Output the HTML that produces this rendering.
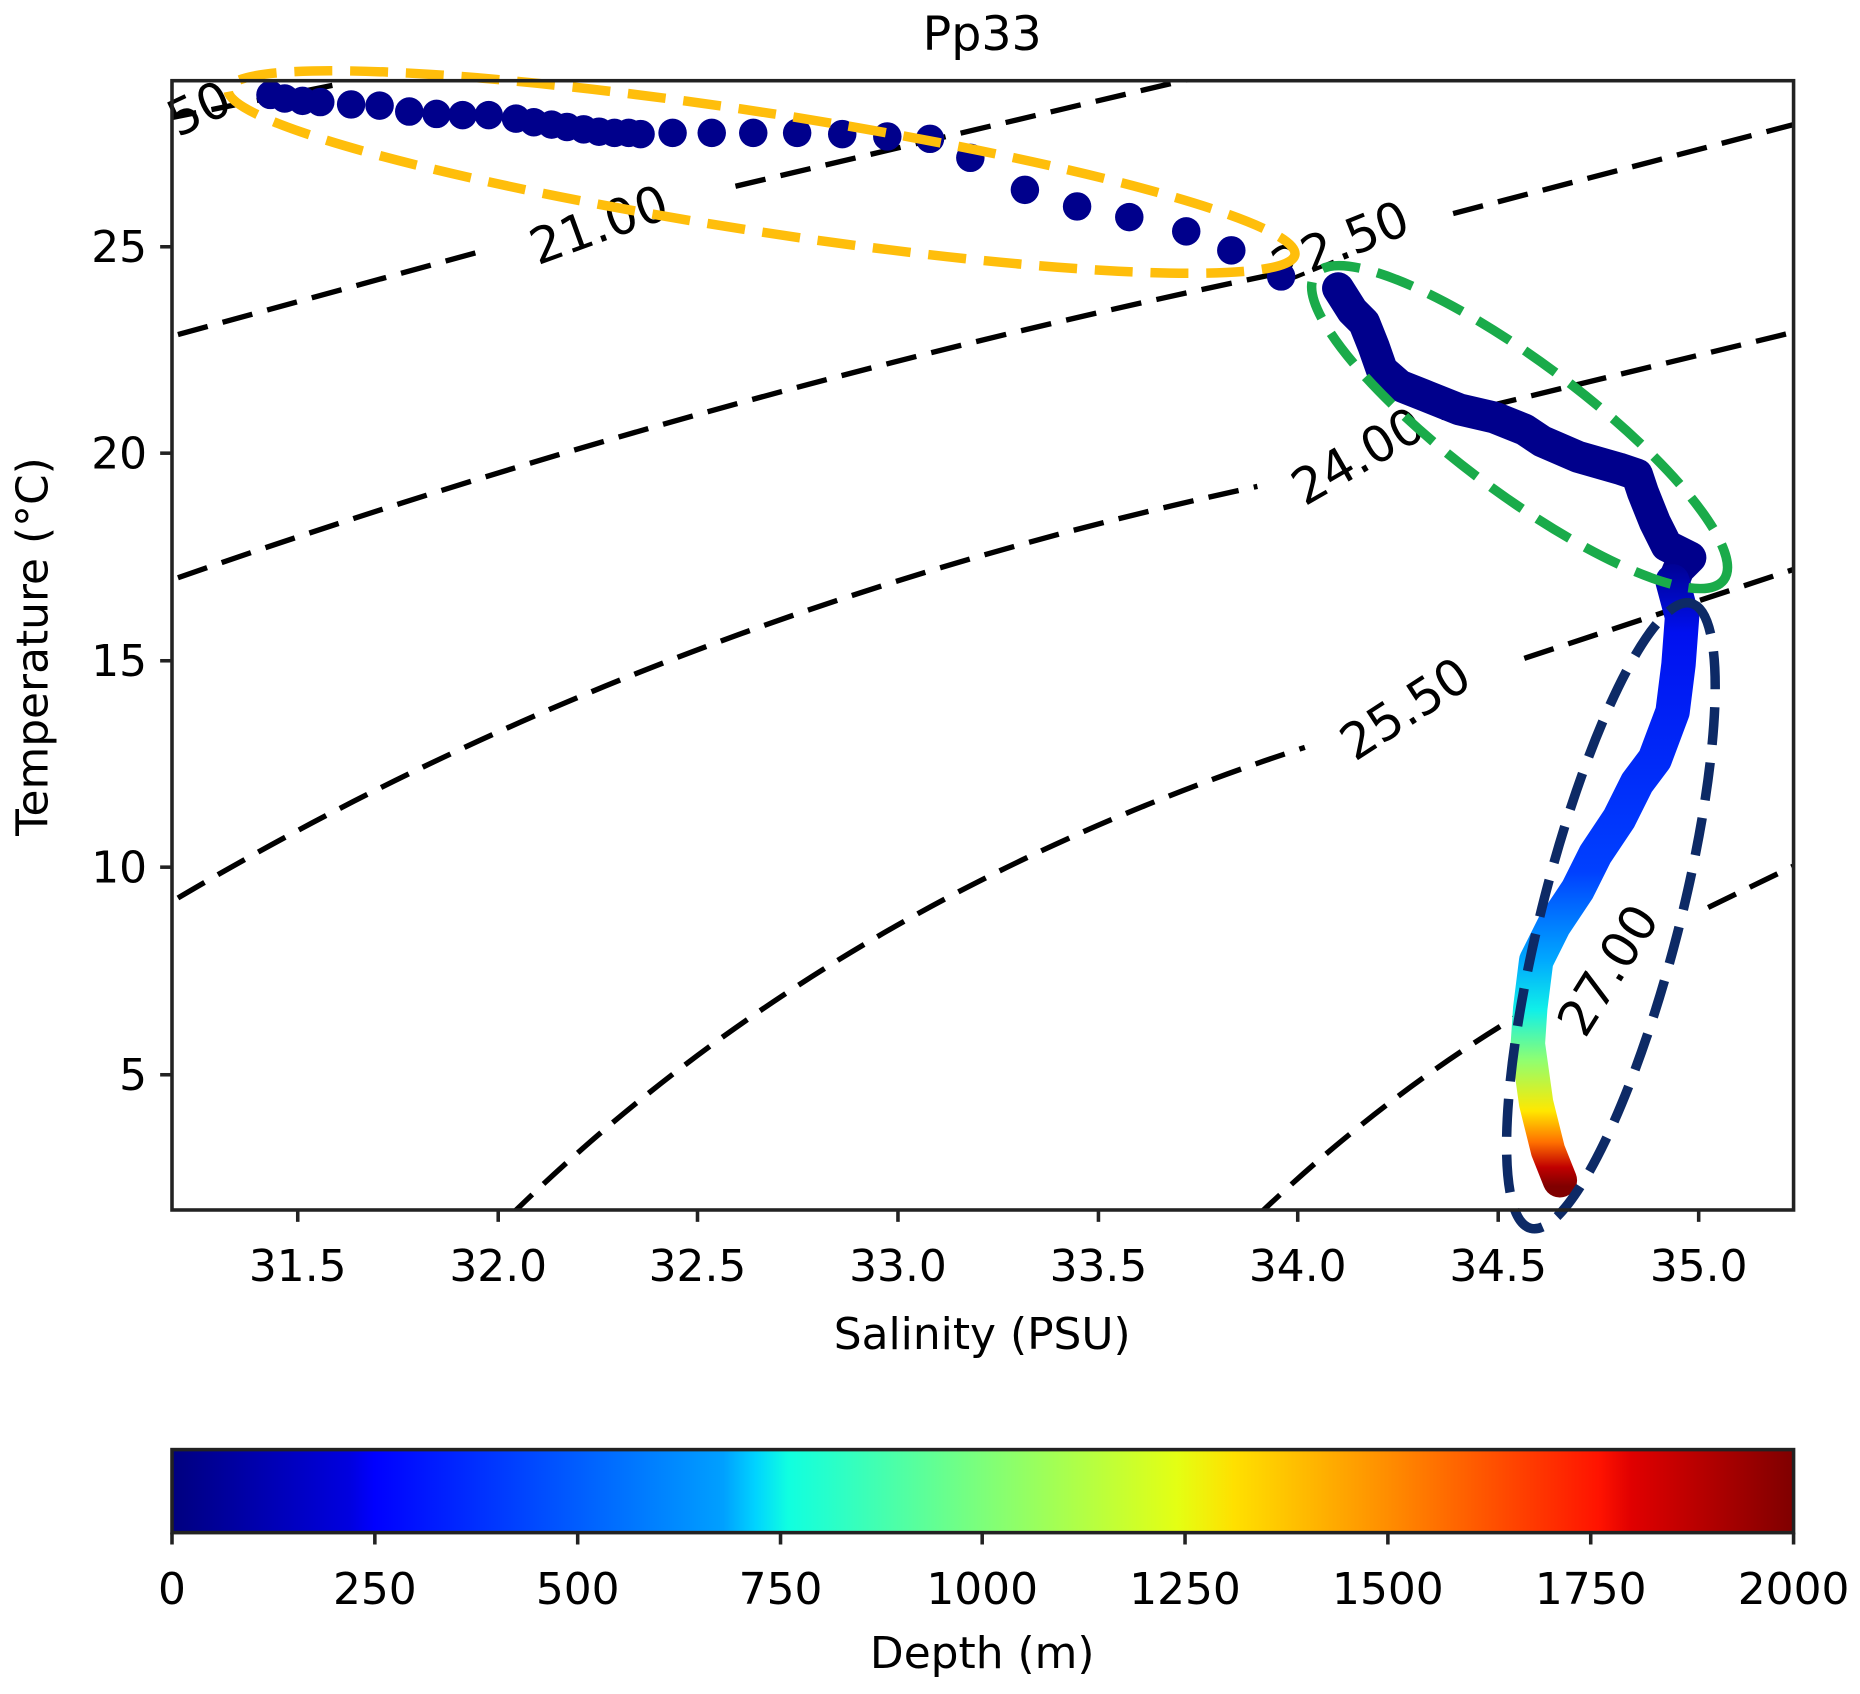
<!DOCTYPE html>
<html><head><meta charset="utf-8"><style>html,body{margin:0;padding:0;background:#fff}svg{display:block}</style></head>
<body>
<svg width="1860" height="1694" viewBox="0 0 1568 1428" xmlns="http://www.w3.org/2000/svg" font-family="'DejaVu Sans','Liberation Sans',sans-serif">
<defs>
<linearGradient id="cb" x1="0" x2="1" y1="0" y2="0">
<stop offset="0" stop-color="#00007f"/><stop offset="0.11" stop-color="#0000e0"/><stop offset="0.125" stop-color="#0000ff"/>
<stop offset="0.34" stop-color="#00a0ff"/><stop offset="0.36" stop-color="#00d4ff"/><stop offset="0.38" stop-color="#10ffe0"/>
<stop offset="0.5" stop-color="#7dff7a"/><stop offset="0.62" stop-color="#e4ff13"/><stop offset="0.655" stop-color="#ffe000"/>
<stop offset="0.75" stop-color="#ff8d00"/><stop offset="0.88" stop-color="#ff1300"/><stop offset="0.9" stop-color="#e00000"/><stop offset="1" stop-color="#7f0000"/>
</linearGradient>
<linearGradient id="pg" gradientUnits="userSpaceOnUse" x1="0" y1="470" x2="0" y2="1000">
<stop offset="0" stop-color="#00008c"/><stop offset="0.12" stop-color="#0010f0"/><stop offset="0.5" stop-color="#0040ff"/>
<stop offset="0.64" stop-color="#00a8ff"/><stop offset="0.72" stop-color="#10f0e8"/><stop offset="0.8" stop-color="#90ff70"/>
<stop offset="0.88" stop-color="#ffe800"/><stop offset="0.93" stop-color="#ff7000"/><stop offset="0.97" stop-color="#c00000"/><stop offset="1" stop-color="#800000"/>
</linearGradient>
<clipPath id="ax"><rect x="145" y="68" width="1367" height="952"/></clipPath>
</defs>
<text x="828" y="42" font-size="40" text-anchor="middle">Pp33</text>
<g clip-path="url(#ax)" fill="none" stroke="#000" stroke-width="4.5" stroke-dasharray="26,13">
<path d="M140 100 L290 70"/>
<path d="M150 282 L405 212"/><path d="M620 157 L1010 65"/>
<path d="M150 487 Q600 330 1070 232"/><path d="M1225 180 L1512 105"/>
<path d="M150 757 Q550 520 1060 410"/><path d="M1215 352 L1512 280"/>
<path d="M430 1025 Q700 760 1100 630"/><path d="M1285 555 L1512 480"/>
<path d="M1060 1025 Q1170 920 1290 850"/><path d="M1440 765 L1512 730"/>
</g>
<g font-size="42" fill="#000">
<text transform="translate(505,190) rotate(-20)" text-anchor="middle" dy="14">21.00</text>
<text transform="translate(1130,205) rotate(-22)" text-anchor="middle" dy="14">22.50</text>
<text transform="translate(1145,385) rotate(-30)" text-anchor="middle" dy="14">24.00</text>
<text transform="translate(1185,598) rotate(-33)" text-anchor="middle" dy="14">25.50</text>
<text transform="translate(1356,818) rotate(-58)" text-anchor="middle" dy="14">27.00</text>
<text transform="translate(168,92) rotate(-25)" text-anchor="middle" dy="14">50</text>
</g>
<g fill="#00008c">
<circle cx="228" cy="80" r="12"/><circle cx="240" cy="83" r="12"/><circle cx="255" cy="85" r="12"/><circle cx="270" cy="86" r="12"/><circle cx="296" cy="88" r="12"/><circle cx="320" cy="89" r="12"/><circle cx="345" cy="94" r="12"/><circle cx="368" cy="96" r="12"/><circle cx="390" cy="97" r="12"/><circle cx="412" cy="97" r="12"/><circle cx="435" cy="100" r="12"/><circle cx="450" cy="103" r="12"/><circle cx="465" cy="105" r="12"/><circle cx="478" cy="107" r="12"/><circle cx="492" cy="109" r="12"/><circle cx="505" cy="111" r="12"/><circle cx="518" cy="112" r="12"/><circle cx="530" cy="112" r="12"/><circle cx="540" cy="113" r="12"/><circle cx="567" cy="112" r="12"/><circle cx="600" cy="112" r="12"/><circle cx="635" cy="112" r="12"/><circle cx="672" cy="112" r="12"/><circle cx="710" cy="113" r="12"/><circle cx="748" cy="115" r="12"/><circle cx="784" cy="117" r="12"/><circle cx="818" cy="133" r="12"/><circle cx="864" cy="160" r="12"/><circle cx="908" cy="174" r="12"/><circle cx="952" cy="183" r="12"/><circle cx="1000" cy="195" r="12"/><circle cx="1038" cy="211" r="12"/><circle cx="1080" cy="233" r="12"/>
</g>
<polyline fill="none" stroke="#00008c" stroke-width="27" stroke-linejoin="round" stroke-linecap="round" points="1128,243 1140,262 1150,272 1158,292 1165,312 1180,325 1200,333 1230,345 1260,352 1285,362 1300,372 1330,385 1365,395 1380,400 1385,415 1395,440 1405,460 1425,470 1415,480 1410,492"/>
<polyline fill="none" stroke="url(#pg)" stroke-width="29" stroke-linejoin="round" stroke-linecap="round" points="1410,490 1418,520 1415,560 1410,600 1395,640 1380,660 1365,690 1345,720 1330,750 1310,780 1295,810 1290,850 1288,880 1295,930 1305,970 1315,995"/>
<g fill="none" stroke-width="8" stroke-dasharray="32,15">
<ellipse cx="642" cy="145" rx="455" ry="50" transform="rotate(8.8 642 145)" stroke="#ffbe0b"/>
<ellipse cx="1281" cy="360" rx="215" ry="55" transform="rotate(36.8 1281 360)" stroke="#1aab4a"/>
<ellipse cx="1358" cy="772" rx="272" ry="58" transform="rotate(-75.6 1358 772)" stroke="#0d2a66"/>
</g>
<rect x="145" y="68" width="1367" height="952" fill="none" stroke="#222" stroke-width="3"/>
<g stroke="#222" stroke-width="3">
<line x1="251" y1="1020" x2="251" y2="1030"/><line x1="420" y1="1020" x2="420" y2="1030"/><line x1="588" y1="1020" x2="588" y2="1030"/><line x1="757" y1="1020" x2="757" y2="1030"/><line x1="926" y1="1020" x2="926" y2="1030"/><line x1="1094" y1="1020" x2="1094" y2="1030"/><line x1="1263" y1="1020" x2="1263" y2="1030"/><line x1="1432" y1="1020" x2="1432" y2="1030"/>
<line x1="135" y1="208" x2="145" y2="208"/><line x1="135" y1="382" x2="145" y2="382"/><line x1="135" y1="557" x2="145" y2="557"/><line x1="135" y1="731" x2="145" y2="731"/><line x1="135" y1="906" x2="145" y2="906"/>
</g>
<g font-size="37" text-anchor="middle">
<text x="251" y="1080">31.5</text><text x="420" y="1080">32.0</text><text x="588" y="1080">32.5</text><text x="757" y="1080">33.0</text><text x="926" y="1080">33.5</text><text x="1094" y="1080">34.0</text><text x="1263" y="1080">34.5</text><text x="1432" y="1080">35.0</text>
<text x="828" y="1137">Salinity (PSU)</text>
</g>
<g font-size="37" text-anchor="end">
<text x="124" y="221">25</text><text x="124" y="395">20</text><text x="124" y="570">15</text><text x="124" y="744">10</text><text x="124" y="919">5</text>
</g>
<text transform="translate(40,545) rotate(-90)" font-size="37" text-anchor="middle">Temperature (°C)</text>
<rect x="145" y="1222" width="1367" height="70" fill="url(#cb)" stroke="#222" stroke-width="3"/>
<g stroke="#222" stroke-width="3">
<line x1="145" y1="1292" x2="145" y2="1302"/><line x1="316" y1="1292" x2="316" y2="1302"/><line x1="487" y1="1292" x2="487" y2="1302"/><line x1="658" y1="1292" x2="658" y2="1302"/><line x1="828" y1="1292" x2="828" y2="1302"/><line x1="999" y1="1292" x2="999" y2="1302"/><line x1="1170" y1="1292" x2="1170" y2="1302"/><line x1="1341" y1="1292" x2="1341" y2="1302"/><line x1="1512" y1="1292" x2="1512" y2="1302"/>
</g>
<g font-size="37" text-anchor="middle">
<text x="145" y="1352">0</text><text x="316" y="1352">250</text><text x="487" y="1352">500</text><text x="658" y="1352">750</text><text x="828" y="1352">1000</text><text x="999" y="1352">1250</text><text x="1170" y="1352">1500</text><text x="1341" y="1352">1750</text><text x="1512" y="1352">2000</text>
<text x="828" y="1406">Depth (m)</text>
</g>
</svg>
</body></html>
